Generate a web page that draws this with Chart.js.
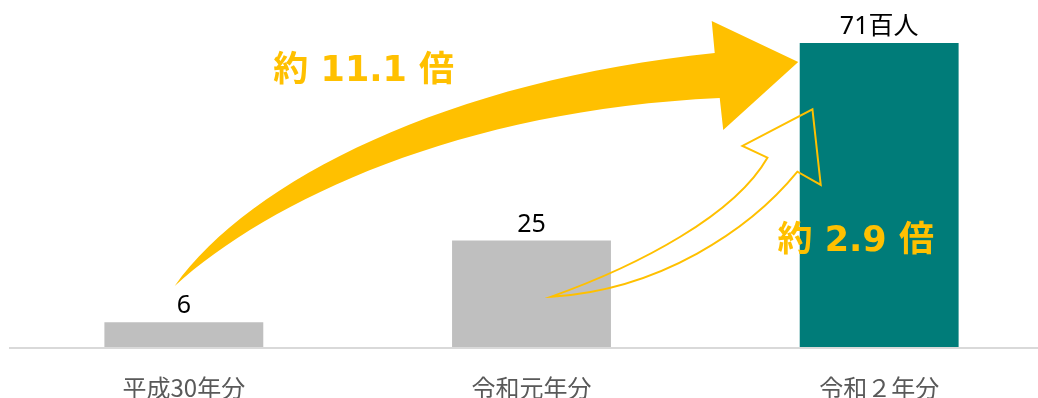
<!DOCTYPE html>
<html lang="ja">
<head>
<meta charset="utf-8">
<script src="https://cdn.jsdelivr.net/npm/chart.js@4.4.1/dist/chart.umd.min.js"></script>
<style>
  html, body { margin: 0; padding: 0; background: #fff; overflow: hidden; }
  #wrap { width: 1038px; height: 398px; overflow: hidden; }
</style>
</head>
<body>
<div id="wrap"><canvas id="chart" width="1053" height="398"></canvas></div>
<script>
const years = ['平成30年分', '令和元年分', '令和２年分'];
const counts = [6, 25, 71];
const units = ['', '', '百人'];
const barColors = ['#BFBFBF', '#BFBFBF', '#007C79'];
const ratios = ['約 11.1 倍', '約 2.9 倍'];

const YELLOW = '#FFC000';

// value labels, growth arrows and ratio captions
const annotate = {
  id: 'annotate',
  afterDatasetsDraw(chart) {
    const ctx = chart.ctx;
    const bars = chart.getDatasetMeta(0).data;
    ctx.save();

    ctx.fillStyle = '#000';
    ctx.font = '25px "Noto Sans", "Noto Sans CJK JP"';
    ctx.textAlign = 'center';
    ctx.textBaseline = 'alphabetic';
    bars.forEach((bar, i) => {
      ctx.fillText(counts[i] + units[i], bar.x, bar.y - 9);
    });

    // both arrows aim at the top-left corner of the last bar
    const last = bars[bars.length - 1];
    const ox = last.x - last.width / 2;
    const oy = last.y;
    const p = (dx, dy) => [ox + dx, oy + dy];

    // big filled arrow from the first year
    ctx.beginPath();
    ctx.moveTo(...p(-625, 243));
    ctx.bezierCurveTo(...p(-550, 137), ...p(-350, 37), ...p(-85, 10));
    ctx.lineTo(...p(-88, -22));
    ctx.lineTo(...p(-1.5, 19));
    ctx.lineTo(...p(-76.5, 87));
    ctx.lineTo(...p(-80, 55));
    ctx.bezierCurveTo(...p(-340, 67), ...p(-530, 157), ...p(-625, 243));
    ctx.closePath();
    ctx.fillStyle = YELLOW;
    ctx.fill();

    // outlined arrow from the previous year
    ctx.beginPath();
    ctx.moveTo(...p(-248.3, 253.7));
    ctx.bezierCurveTo(...p(-160, 222), ...p(-65, 172), ...p(-32.3, 114.7));
    ctx.lineTo(...p(-57.3, 103));
    ctx.lineTo(...p(12.7, 66.3));
    ctx.lineTo(...p(21, 142));
    ctx.lineTo(...p(-2.3, 128.7));
    ctx.bezierCurveTo(...p(-50, 187), ...p(-140, 247), ...p(-248.3, 253.7));
    ctx.closePath();
    ctx.strokeStyle = YELLOW;
    ctx.lineWidth = 2;
    ctx.lineJoin = 'miter';
    ctx.stroke();

    ctx.fillStyle = YELLOW;
    ctx.font = 'bold 35px "DejaVu Sans", "Noto Sans CJK JP"';
    ctx.textBaseline = 'middle';
    ctx.fillText(ratios[0], ...p(-436, 29));
    ctx.fillText(ratios[1], ...p(56, 199));

    ctx.restore();
  }
};

new Chart(document.getElementById('chart'), {
  type: 'bar',
  data: {
    labels: years,
    datasets: [{
      data: counts,
      backgroundColor: barColors,
      categoryPercentage: 1,
      barPercentage: 0.457
    }]
  },
  options: {
    responsive: false,
    animation: false,
    layout: { padding: { left: 10, right: 0, top: 0, bottom: 0 } },
    plugins: {
      legend: { display: false },
      tooltip: { enabled: false }
    },
    scales: {
      x: {
        grid: { display: false },
        border: { color: '#D9D9D9', width: 2, z: 1 },
        ticks: {
          color: '#595959',
          font: { family: '"Noto Sans CJK JP"', size: 24 },
          padding: 17
        },
        afterFit: (scale) => { scale.height = 50; }
      },
      y: { display: false, min: 0, max: 81 }
    }
  },
  plugins: [annotate]
});
</script>
</body>
</html>
